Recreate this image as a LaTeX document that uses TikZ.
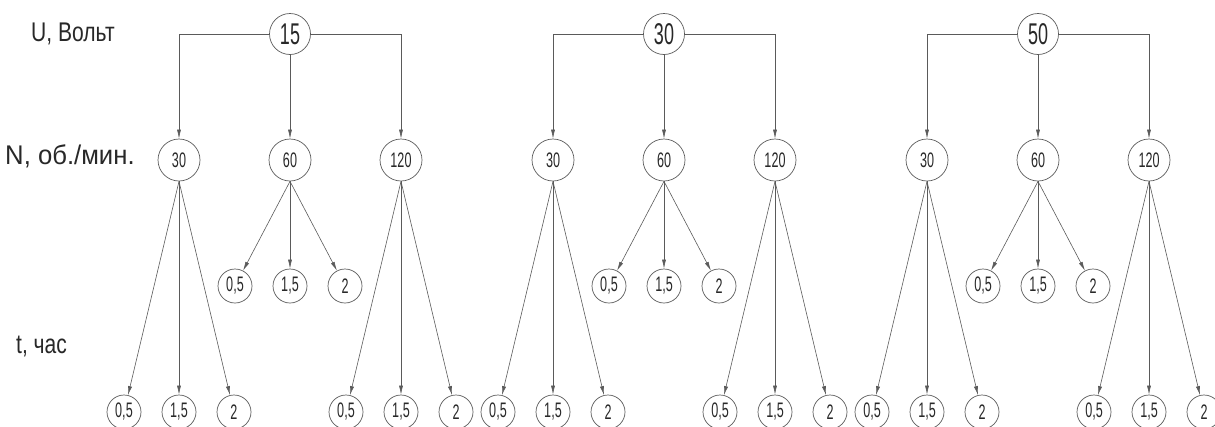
\documentclass[tikz,border=0pt]{standalone}
\usepackage{fontspec}
\usepackage{graphicx}
\setmainfont{Liberation Sans}
\newfontfamily\numfont{Liberation Sans}[FakeStretch=0.6]
\newfontfamily\labfont{Liberation Sans}[FakeStretch=0.78]
\usetikzlibrary{arrows.meta}
\definecolor{ink}{RGB}{40,40,40}
\definecolor{wire}{RGB}{90,90,90}

\begin{document}
\begin{tikzpicture}[x=1pt,y=-1pt,
  volt/.style={circle,draw=wire,line width=0.7pt,minimum size=41pt,inner sep=0pt,
    text=ink,font=\numfont\fontsize{30}{30}\selectfont},
  speed/.style={circle,draw=wire,line width=0.7pt,minimum size=42pt,inner sep=0pt,
    text=ink,font=\numfont\fontsize{21}{21}\selectfont},
  hours/.style={circle,draw=wire,line width=0.7pt,minimum size=34pt,inner sep=0pt,
    text=ink,font=\numfont\fontsize{21}{21}\selectfont},
  axislabel/.style={anchor=west,inner sep=0pt,text=ink,font=\labfont\fontsize{27}{27}\selectfont},
  link/.style={draw=wire,line width=0.6pt,-{Latex[length=9pt,width=4pt]}}]
\useasboundingbox (0,0) rectangle (1215,426);

% row captions
\node[axislabel] (capU) at (31,34) {U, Вольт};
\node[axislabel] (capN) at (5,156) {\scalebox{1.22}[1]{N, об./мин.}};
\node[axislabel] (capT) at (16,346) {t, час};

\foreach \g/\v [count=\i] in {290/15, 664/30, 1038/50}{
  % voltage
  \node[volt] (u\i) at (\g,34) {\v};
  % rotation speeds
  \node[speed] (n\i-a) at (\g-111,160) {30};
  \node[speed] (n\i-b) at (\g,160) {60};
  \node[speed] (n\i-c) at (\g+111,160) {120};
  \draw[link] (u\i) -| (n\i-a);
  \draw[link] (u\i) -- (n\i-b);
  \draw[link] (u\i) -| (n\i-c);
  % durations under 60
  \node[hours] (t\i-b1) at (\g-55,286) {0,5};
  \node[hours] (t\i-b2) at (\g,286) {1,5};
  \node[hours] (t\i-b3) at (\g+55,286) {2};
  % durations under 30
  \node[hours] (t\i-a1) at (\g-166,412) {0,5};
  \node[hours] (t\i-a2) at (\g-111,412) {1,5};
  \node[hours] (t\i-a3) at (\g-56,412) {2};
  % durations under 120
  \node[hours] (t\i-c1) at (\g+56,412) {0,5};
  \node[hours] (t\i-c2) at (\g+111,412) {1,5};
  \node[hours] (t\i-c3) at (\g+166,412) {2};
  \foreach \s in {a,b,c}{
    \foreach \k in {1,2,3}{
      \draw[link] (n\i-\s.south) -- (t\i-\s\k);
    }
  }
}
\end{tikzpicture}
\end{document}
